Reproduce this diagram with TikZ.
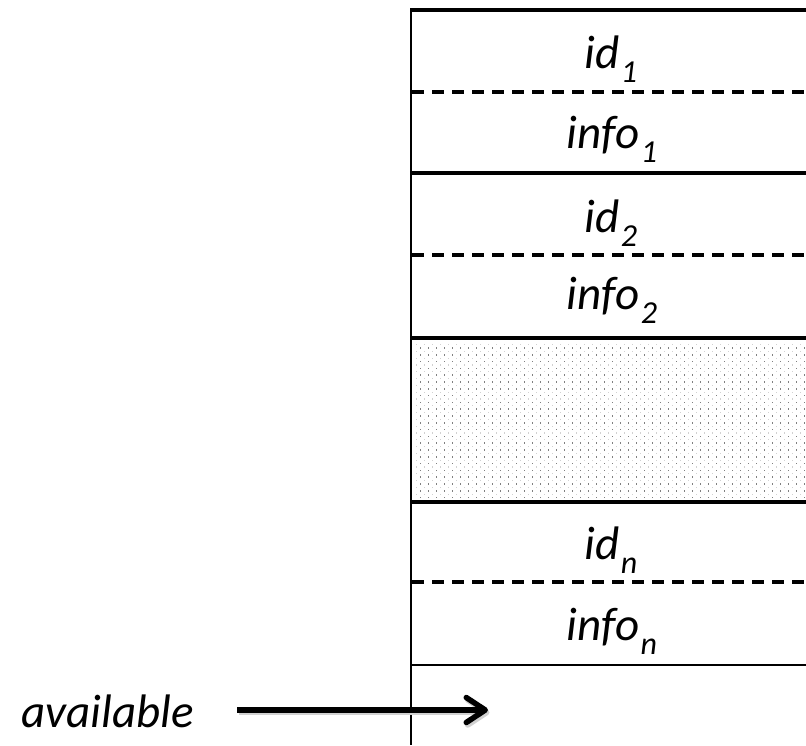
\documentclass[tikz,border=0pt]{standalone}
\usepackage{fontspec}
\setmainfont{Carlito}
\usetikzlibrary{arrows.meta}
\newcommand\lowsub[1]{\kern1pt\raisebox{-14pt}{\fontsize{32}{32}\selectfont #1}}
\begin{document}
\begin{tikzpicture}[x=1pt,y=-1pt,
  rule/.style={line width=3.4pt},
  thinrule/.style={line width=2.8pt},
  divider/.style={line width=3.2pt,dash pattern=on 12pt off 8pt},
  cell/.style={anchor=base,font=\fontsize{47}{47}\selectfont\itshape,inner sep=0pt},
  dotdark/.style={fill=black!50},
  dotlight/.style={fill=black!18},
  pointer/.style={line width=5.5pt,-{Straight Barb[length=19pt,width=25pt,line cap=round,line join=round]}}]
\useasboundingbox (0,0) rectangle (806,745);
\fill[white] (0,0) rectangle (806,745);

% free area: dotted fill
\begin{scope}
\clip (412,339) rectangle (806,502);
\foreach \i in {0,...,50}{
  \foreach \j in {0,...,24}{
    \fill[dotdark] ({420.7+8*\i-0.6},{348+6.8*\j-0.8}) rectangle ++(1.2,1.6);
    \fill[dotlight] ({416.7+8*\i-0.6},{344.6+6.8*\j-0.6}) rectangle ++(1.2,1.2);
  }
}
\end{scope}

% row boundaries
\draw[rule] (411,10) -- (806,10);
\draw[divider] (412,92) -- (806,92);
\draw[rule] (411,173) -- (806,173);
\draw[divider] (412,255) -- (806,255);
\draw[rule] (411,338) -- (806,338);
\draw[rule] (411,502) -- (806,502);
\draw[divider] (412,582) -- (806,582);
\draw[thinrule] (411,665) -- (806,665);
\draw[thinrule] (411,8.3) -- (411,745);

% entries
\node[cell] (id1)   at (611,68)  {id\lowsub{1}};
\node[cell] (info1) at (612,148) {info\lowsub{1}};
\node[cell] (id2)   at (611,232) {id\lowsub{2}};
\node[cell] (info2) at (612,309) {info\lowsub{2}};
\node[cell] (idn)   at (611,559) {id\lowsub{n}};
\node[cell] (infon) at (612,640) {info\lowsub{n}};

% pointer to the first free slot
\node[cell,anchor=base west] (avail) at (21,727) {available};
\coordinate (tail) at (237,710);
\coordinate (free) at (488,710);
\draw[pointer,black!18,transform canvas={shift={(1.5pt,-2.5pt)}}] (tail) -- (free);
\draw[pointer] (tail) -- (free);
\end{tikzpicture}
\end{document}
